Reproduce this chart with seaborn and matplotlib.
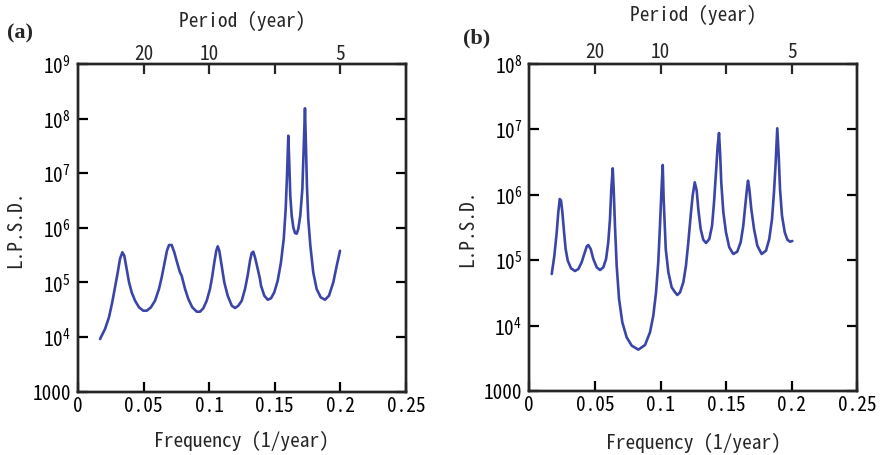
import numpy as np
import pandas as pd
import seaborn as sns
import matplotlib
matplotlib.use("Agg")
import matplotlib.pyplot as plt
from matplotlib.ticker import NullLocator, FixedLocator

# ---------------- data (frequency in 1/year, L.P.S.D. given as log10) ----------------
freq_a = [0.0168, 0.0206, 0.0236, 0.0261, 0.0282, 0.0303, 0.0320, 0.0338, 0.0353, 0.0371,
          0.0389, 0.0409, 0.0435, 0.0465, 0.0498, 0.0524, 0.0556, 0.0587, 0.0617, 0.0638,
          0.0658, 0.0678, 0.0694, 0.0714, 0.0734, 0.0755, 0.0777, 0.0790, 0.0816, 0.0841,
          0.0871, 0.0905, 0.0930, 0.0955, 0.0981, 0.1006, 0.1024, 0.1039, 0.1054, 0.1065,
          0.1077, 0.1095, 0.1115, 0.1141, 0.1172, 0.1197, 0.1222, 0.1248, 0.1273, 0.1293,
          0.1311, 0.1324, 0.1336, 0.1349, 0.1370, 0.1387, 0.1395, 0.1420, 0.1446, 0.1471,
          0.1496, 0.1522, 0.1547, 0.1568, 0.1583, 0.1593, 0.1603, 0.1611, 0.1618, 0.1629,
          0.1641, 0.1654, 0.1667, 0.1679, 0.1694, 0.1710, 0.1720, 0.1730, 0.1738, 0.1745,
          0.1755, 0.1771, 0.1793, 0.1819, 0.1850, 0.1883, 0.1913, 0.1946, 0.1972, 0.1997]
log_lpsd_a = [3.965, 4.148, 4.362, 4.637, 4.911, 5.186, 5.430, 5.552, 5.490, 5.246,
              5.003, 4.820, 4.666, 4.545, 4.483, 4.483, 4.545, 4.666, 4.880, 5.094,
              5.338, 5.581, 5.686, 5.686, 5.552, 5.369, 5.186, 5.124, 4.880, 4.697,
              4.545, 4.465, 4.465, 4.527, 4.666, 4.880, 5.124, 5.369, 5.581, 5.662,
              5.581, 5.307, 5.003, 4.758, 4.575, 4.532, 4.575, 4.666, 4.880, 5.124,
              5.398, 5.539, 5.563, 5.461, 5.246, 5.063, 4.941, 4.758, 4.684, 4.710,
              4.820, 5.032, 5.369, 5.796, 6.345, 6.955, 7.687, 7.138, 6.588, 6.222,
              6.010, 5.905, 5.893, 5.979, 6.222, 6.711, 7.443, 8.189, 7.443, 6.772,
              6.162, 5.673, 5.186, 4.880, 4.728, 4.684, 4.758, 5.003, 5.307, 5.581]

freq_b = [0.0171, 0.0191, 0.0209, 0.0221, 0.0232, 0.0242, 0.0252, 0.0265, 0.0277, 0.0293,
          0.0318, 0.0348, 0.0374, 0.0399, 0.0419, 0.0438, 0.0450, 0.0468, 0.0488, 0.0514,
          0.0539, 0.0564, 0.0585, 0.0602, 0.0615, 0.0625, 0.0636, 0.0643, 0.0653, 0.0666,
          0.0684, 0.0709, 0.0742, 0.0781, 0.0831, 0.0882, 0.0920, 0.0945, 0.0966, 0.0983,
          0.0996, 0.1009, 0.1017, 0.1024, 0.1040, 0.1060, 0.1085, 0.1111, 0.1128, 0.1149,
          0.1174, 0.1194, 0.1212, 0.1230, 0.1245, 0.1261, 0.1276, 0.1288, 0.1306, 0.1326,
          0.1347, 0.1372, 0.1393, 0.1408, 0.1423, 0.1436, 0.1446, 0.1454, 0.1463, 0.1479,
          0.1499, 0.1524, 0.1555, 0.1585, 0.1611, 0.1631, 0.1646, 0.1659, 0.1667, 0.1677,
          0.1692, 0.1713, 0.1738, 0.1771, 0.1804, 0.1829, 0.1850, 0.1865, 0.1878, 0.1890,
          0.1901, 0.1911, 0.1926, 0.1947, 0.1967, 0.1987, 0.2005]
log_lpsd_b = [4.789, 5.069, 5.427, 5.732, 5.936, 5.910, 5.732, 5.427, 5.171, 4.993,
              4.876, 4.835, 4.865, 4.968, 5.095, 5.212, 5.232, 5.171, 5.018, 4.891,
              4.850, 4.891, 5.018, 5.274, 5.630, 6.089, 6.405, 6.089, 5.528, 4.916,
              4.407, 4.050, 3.821, 3.693, 3.632, 3.703, 3.898, 4.151, 4.509, 4.968,
              5.528, 6.139, 6.456, 5.936, 5.171, 4.815, 4.586, 4.509, 4.468, 4.509,
              4.662, 4.916, 5.274, 5.681, 5.986, 6.191, 6.063, 5.783, 5.477, 5.313,
              5.263, 5.324, 5.528, 5.885, 6.344, 6.751, 6.945, 6.650, 6.191, 5.732,
              5.427, 5.197, 5.095, 5.130, 5.274, 5.528, 5.833, 6.089, 6.216, 6.089,
              5.783, 5.477, 5.222, 5.095, 5.145, 5.324, 5.630, 6.038, 6.497, 7.017,
              6.598, 6.089, 5.681, 5.427, 5.313, 5.283, 5.294]

x_ticks = [0, 0.05, 0.1, 0.15, 0.2, 0.25]
x_ticklabels = ["0", "0.05", "0.1", "0.15", "0.2", "0.25"]
top_ticks = [0.05, 0.1, 0.15, 0.2]
top_ticklabels = ["20", "10", "", "5"]
ylim_a = (1e3, 1e9)
ylim_b = (1e3, 1e8)

# ---------------- style ----------------
sns.set_style("ticks")
FONT = ["Noto Sans Mono CJK JP", "Noto Sans CJK JP", "DejaVu Sans"]
plt.rcParams["font.family"] = FONT
plt.rcParams["mathtext.fontset"] = "custom"
plt.rcParams["mathtext.rm"] = "Noto Sans Mono CJK JP"
plt.rcParams["mathtext.it"] = "Noto Sans Mono CJK JP"
plt.rcParams["mathtext.bf"] = "Noto Sans Mono CJK JP"

line_color = "#3b45a8"
fs_tick = 14
fs_label = 14

fig = plt.figure(figsize=(8.81, 4.56), dpi=100)
ax_a = fig.add_axes([78 / 881, 1 - 392.7 / 456, 328 / 881, 327.7 / 456])
ax_b = fig.add_axes([529.3 / 881, 1 - 392 / 456, 328 / 881, 327 / 456])


def style_panel(ax, freq, logvals, ylim, tag, tag_xy, top_pad, top_tick_pad, bottom_pad):
    df = pd.DataFrame({"f": freq, "p": 10.0 ** np.asarray(logvals)})
    sns.lineplot(data=df, x="f", y="p", ax=ax, color=line_color, linewidth=1.9,
                 sort=False, estimator=None)
    ax.set_yscale("log")
    ax.set_xlim(0, 0.25)
    ax.set_ylim(*ylim)
    lo, hi = int(np.log10(ylim[0])), int(np.log10(ylim[1]))
    yt = [10.0 ** k for k in range(lo, hi + 1)]
    ylabels = ["1000"] + [r"$\mathdefault{10^{%d}}$" % k for k in range(lo + 1, hi + 1)]
    ax.yaxis.set_major_locator(FixedLocator(yt))
    ax.set_yticklabels(ylabels)
    ax.yaxis.set_minor_locator(NullLocator())
    ax.set_xticks(x_ticks)
    ax.set_xticklabels(x_ticklabels)
    ax.xaxis.set_minor_locator(NullLocator())
    ax.tick_params(axis="both", which="major", direction="in", length=7.5, width=1.6,
                   labelsize=fs_tick, top=False, right=True, colors="black")
    ax.tick_params(axis="x", pad=3)
    ax.tick_params(axis="y", pad=5)
    for s in ax.spines.values():
        s.set_linewidth(1.7)
        s.set_color("black")
        s.set_visible(True)
    ax.set_xlabel("Frequency (1/year)", fontsize=fs_label, labelpad=bottom_pad)
    ax.set_ylabel("L.P.S.D.", fontsize=fs_label, labelpad=5)

    top = ax.twiny()
    top.set_xlim(0, 0.25)
    top.set_xticks(top_ticks)
    top.set_xticklabels(top_ticklabels)
    top.xaxis.set_minor_locator(NullLocator())
    top.tick_params(axis="x", direction="in", length=7.5, width=1.6,
                    labelsize=fs_tick, pad=top_tick_pad)
    top.set_xlabel("Period (year)", fontsize=fs_label, labelpad=top_pad)
    for s in top.spines.values():
        s.set_linewidth(1.7)
    fig.text(tag_xy[0] / 881, 1 - tag_xy[1] / 456, tag, fontsize=16, fontweight="bold",
             family="Liberation Serif", ha="center", va="center")


style_panel(ax_a, freq_a, log_lpsd_a, ylim_a, "(a)", (20, 33), 13, 0.8, 11)
style_panel(ax_b, freq_b, log_lpsd_b, ylim_b, "(b)", (477, 38), 16, 2, 13)

fig.savefig("out.png", dpi=100)
